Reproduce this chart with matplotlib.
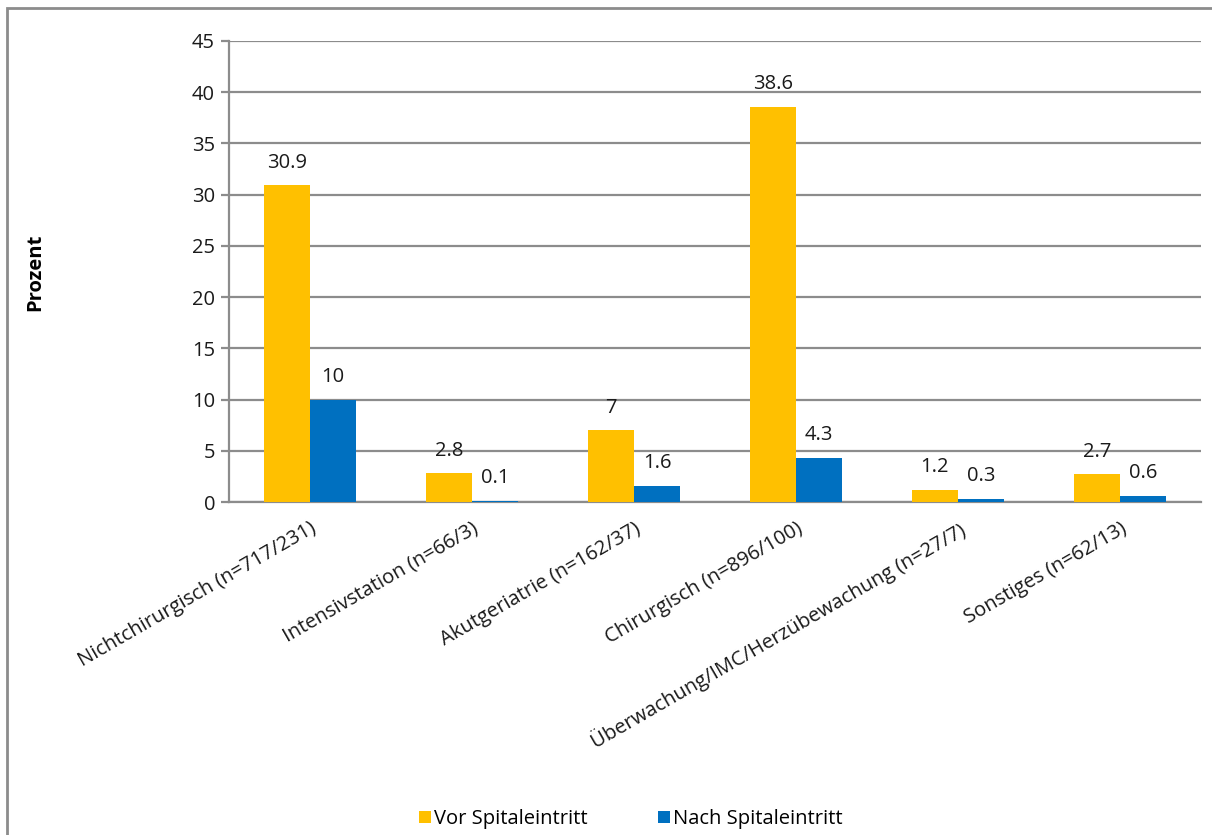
import matplotlib.pyplot as plt
import numpy as np
from matplotlib.patches import Rectangle

plt.rcParams['font.family'] = ['Open Sans', 'DejaVu Sans']

categories = ["Nichtchirurgisch (n=717/231)", "Intensivstation (n=66/3)",
              "Akutgeriatrie (n=162/37)", "Chirurgisch (n=896/100)",
              "Überwachung/IMC/Herzübewachung (n=27/7)", "Sonstiges (n=62/13)"]
vor = [30.9, 2.8, 7, 38.6, 1.2, 2.7]
nach = [10, 0.1, 1.6, 4.3, 0.3, 0.6]
vor_labels = ["30.9", "2.8", "7", "38.6", "1.2", "2.7"]
nach_labels = ["10", "0.1", "1.6", "4.3", "0.3", "0.6"]

yellow = "#FFC000"
blue = "#0070C0"
grid = "#8c8c8c"
fs = 14.5

fig = plt.figure(figsize=(12.12, 8.35), dpi=100)
ax = fig.add_axes([229 / 1212, 1 - 502 / 835, 972 / 1212, 461 / 835])

x = np.arange(len(categories))
w = 0.285
ax.bar(x - w / 2, vor, w, color=yellow, label="Vor Spitaleintritt", zorder=3)
ax.bar(x + w / 2, nach, w, color=blue, label="Nach Spitaleintritt", zorder=3)

for xi, v, s in zip(x, vor, vor_labels):
    ax.annotate(s, (xi - w / 2, v), xytext=(0, 9), textcoords="offset points",
                ha="center", va="bottom", fontsize=fs, color="#1a1a1a")
for xi, v, s in zip(x, nach, nach_labels):
    ax.annotate(s, (xi + w / 2, v), xytext=(0, 9), textcoords="offset points",
                ha="center", va="bottom", fontsize=fs, color="#1a1a1a")

ax.set_xlim(-0.5, len(categories) - 0.5)
ax.set_ylim(0, 45)
ax.set_yticks(range(0, 46, 5))
ax.yaxis.grid(True, color=grid, linewidth=1.6, zorder=0)
ax.set_axisbelow(True)

ax.set_xticks(x)
ax.set_xticklabels(categories, rotation=30, ha="right", rotation_mode="anchor",
                   fontsize=fs, color="#1a1a1a")
ax.tick_params(axis="x", length=0, pad=12)
ax.tick_params(axis="y", length=6, width=1.6, color=grid, labelsize=fs,
               labelcolor="#1a1a1a", pad=4)

for side in ["top", "right"]:
    ax.spines[side].set_visible(False)
for side in ["left", "bottom"]:
    ax.spines[side].set_color(grid)
    ax.spines[side].set_linewidth(1.6)

fig.text(35 / 1212, 1 - 272 / 835, "Prozent", rotation=90, fontsize=fs,
         fontweight="bold", ha="center", va="center")

fig.legend(loc="center", bbox_to_anchor=(631 / 1212, 1 - 819 / 835), ncol=2,
           frameon=False, fontsize=fs, handlelength=0.6, handleheight=0.6,
           handletextpad=0.15, columnspacing=3.5)

# chart area border
fig.patches.append(Rectangle((7 / 1212, -0.1), 1.1, 1 - 8 / 835 + 0.1,
                             transform=fig.transFigure, fill=False,
                             edgecolor=grid, linewidth=2))

fig.savefig("out.png", dpi=100)
